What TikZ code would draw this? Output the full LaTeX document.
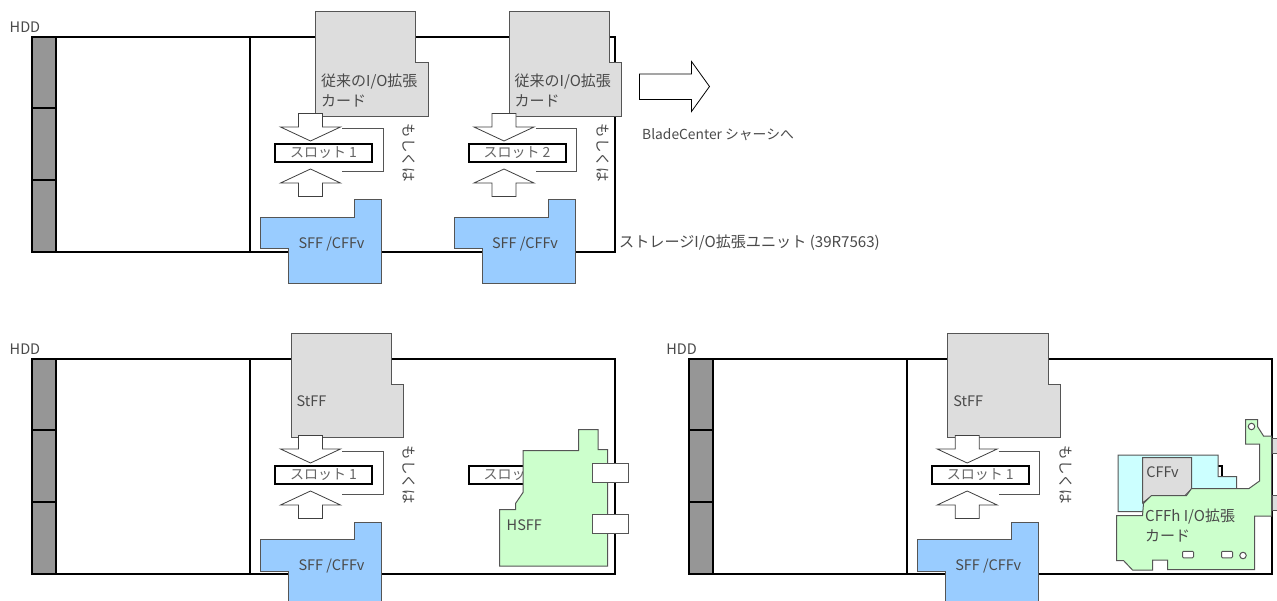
\documentclass[tikz,border=0pt]{standalone}
\usepackage{fontspec}
\setmainfont{Noto Sans CJK JP}
\usepackage{xcolor}
\usetikzlibrary{positioning}
\definecolor{cardgray}{HTML}{DDDDDD}
\definecolor{hddgray}{HTML}{969696}
\definecolor{sffblue}{HTML}{99CCFF}
\definecolor{cffgreen}{HTML}{CCFFCC}
\definecolor{cffcyan}{HTML}{CCFFFF}
\definecolor{edgegray}{HTML}{555555}
\definecolor{labelgray}{HTML}{4A4A4A}
\tikzset{
    frameline/.style={draw=black, line width=2pt},
    cardline/.style={draw=edgegray, line width=1pt, line join=miter},
    labeltext/.style={inner sep=0pt, text=labelgray, font=\fontsize{14.5}{20}\selectfont},
    widetext/.style={labeltext, font=\fontsize{15}{20}\selectfont},
    slotbox/.style={frameline, fill=white, inner sep=0pt, minimum width=97pt, minimum height=18pt,
        text=labelgray!85, font=\fontsize{14}{16}\selectfont},
    flowarrow/.style={draw=black!75, line width=0.8pt, fill=white},
    tabbox/.style={draw=edgegray, line width=1pt}
}
% one blade outline with its three drive bays
\newcommand{\bladeframe}{
    \fill[hddgray] (32,37) rectangle (56,252);
    \draw[frameline] (32,37) rectangle (615,252);
    \draw[frameline] (56,37) -- (56,252);
    \draw[frameline] (250,37) -- (250,252);
    \draw[frameline] (32,108) -- (56,108);
    \draw[frameline] (32,180) -- (56,180);
    \node[labeltext, anchor=west] (hdd) at (9.5,27) {HDD};
}
% arrows, slot and the side bracket; #1 is the slot text
\newcommand{\slotgroup}[1]{
    \draw[flowarrow] (298.5,113.5) -- (322.5,113.5) -- (322.5,127) -- (340.5,127) -- (310.5,141) -- (280.5,127) -- (298.5,127) -- cycle;
    \node[slotbox] (slot) at (323.5,153) {#1};
    \draw[flowarrow] (298.5,196.5) -- (322.5,196.5) -- (322.5,183) -- (340.5,183) -- (310.5,169) -- (280.5,183) -- (298.5,183) -- cycle;
    \draw[draw=edgegray, line width=1pt] (342,129) -- (383,129) -- (383,172) -- (342,172);
    \node[labeltext, rotate=-90] (either) at (409,153) {もしくは};
}
\newcommand{\sffcard}{
    \draw[cardline, fill=sffblue] (260.5,217.5) -- (354.5,217.5) -- (354.5,200) -- (381.5,200) -- (381.5,283.5) -- (288.5,283.5) -- (288.5,249) -- (260.5,249) -- cycle;
    \node[labeltext] (sff) at (331.5,244) {SFF /CFFv};
}
\newcommand{\oldcard}{
    \draw[cardline, fill=cardgray] (315.5,11.5) -- (415.5,11.5) -- (415.5,63) -- (428,63) -- (428,117) -- (315.5,117) -- cycle;
    \node[widetext, anchor=north west, align=left] (oldtext) at (321,73.5) {従来のI/O拡張\\カード};
}
\newcommand{\stffcard}{
    \draw[cardline, fill=cardgray] (291,11.5) -- (391.5,11.5) -- (391.5,63) -- (403.5,63) -- (403.5,115.5) -- (291,115.5) -- cycle;
    \node[labeltext, anchor=west] (stff) at (296.5,79) {StFF};
}
\begin{document}
\begin{tikzpicture}[x=1pt, y=-1pt]
    \clip (0,0) rectangle (1277,601);
    \fill[white] (0,0) rectangle (1277,601);

    % upper unit
    \begin{scope}[name prefix=up-]
        \bladeframe
        \oldcard
        \slotgroup{スロット 1}
        \sffcard
    \end{scope}
    \begin{scope}[shift={(193.5,0)}, name prefix=upb-]
        \oldcard
        \slotgroup{スロット 2}
        \sffcard
    \end{scope}
    \draw[flowarrow, draw=black] (639.5,74) -- (691.5,74) -- (691.5,61.5) -- (709.5,86.5) -- (691.5,111.5) -- (691.5,99.5) -- (639.5,99.5) -- cycle;
    \node[labeltext, anchor=west, font=\fontsize{13.8}{16}\selectfont] (chassis) at (642,135) {BladeCenter シャーシへ};
    \node[labeltext, anchor=west, font=\fontsize{15.1}{20}\selectfont] (unitname) at (619,243) {ストレージI/O拡張ユニット (39R7563)};

    % lower left unit
    \begin{scope}[shift={(0,322)}, name prefix=ll-]
        \bladeframe
        \stffcard
        \slotgroup{スロット 1}
        \sffcard
    \end{scope}
    \node[slotbox] (llslot) at (517,475) {スロット 2};
    \draw[cardline, fill=cffgreen] (523,450.5) -- (578.5,450.5) -- (578.5,429.5) -- (598,429.5) -- (598,449.5) -- (607.5,449.5) -- (607.5,566) -- (499.5,566) -- (499.5,509.5) -- (515.5,509.5) -- (515.5,503.5) -- (523,492.5) -- cycle;
    \node[labeltext, anchor=west] (hsff) at (506.5,525) {HSFF};
    \node[tabbox, fill=white, minimum width=36pt, minimum height=19pt, inner sep=0pt] (tabup) at (610.5,472.5) {};
    \node[tabbox, fill=white, minimum width=36pt, minimum height=19pt, inner sep=0pt] (tabdown) at (610.5,524) {};

    % lower right unit
    \begin{scope}[shift={(656.7,322)}, name prefix=lr-]
        \bladeframe
        \stffcard
        \slotgroup{スロット 1}
        \sffcard
    \end{scope}
    \node[slotbox] (lrslot) at (1173.7,475) {};
    \node[tabbox, fill=cardgray, minimum width=26pt, minimum height=15pt, inner sep=0pt] (tabgrayup) at (1285,445.7) {};
    \node[tabbox, fill=cardgray, minimum width=26pt, minimum height=15pt, inner sep=0pt] (tabgraydown) at (1285,503) {};
    \draw[cardline, fill=cffcyan] (1118,455) -- (1218,455) -- (1218,476.5) -- (1236.5,476.5) -- (1236.5,495) -- (1142,511.5) -- (1118,511.5) -- cycle;
    \draw[cardline, fill=cardgray] (1142.5,457.5) -- (1191.5,457.5) -- (1191.5,489) -- (1185,495.5) -- (1152,495.5) -- (1142.5,503) -- cycle;
    \node[labeltext] (cffv) at (1162.5,472.5) {CFFv};
    \draw[cardline, fill=cffgreen] (1245.5,419.5) -- (1257.5,419.5) -- (1257.5,426.5) -- (1263.5,436) -- (1271.5,436) -- (1271.5,516) -- (1254.5,516) -- (1254.5,569.5) -- (1167.5,569.5) -- (1167.5,560) -- (1152.5,560) -- (1152.5,570) -- (1132.5,570) -- (1123.5,560.5) -- (1116.5,560.5) -- (1116.5,515.5) -- (1142.5,515.5) -- (1143.5,503.5) -- (1151.5,495.5) -- (1186.5,495.5) -- (1191.5,488.5) -- (1249,488.5) -- (1259.5,481) -- (1259.5,444) -- (1245.5,444) -- cycle;
    \node[widetext, anchor=north west, align=left] (cffh) at (1145,508.5) {CFFh I/O拡張\\カード};
    \node[draw=edgegray, line width=1pt, fill=white, circle, inner sep=0pt, minimum size=6.5pt] (holeup) at (1251.5,426.5) {};
    \node[draw=edgegray, line width=1pt, fill=white, circle, inner sep=0pt, minimum size=6.5pt] (holedown) at (1243,555.5) {};
    \node[draw=edgegray, line width=1pt, fill=white, rounded corners=1pt, inner sep=0pt, minimum width=11pt, minimum height=6.5pt] (padleft) at (1188,554.5) {};
    \node[draw=edgegray, line width=1pt, fill=white, rounded corners=1pt, inner sep=0pt, minimum width=11pt, minimum height=6.5pt] (padright) at (1227,554.5) {};
\end{tikzpicture}
\end{document}
